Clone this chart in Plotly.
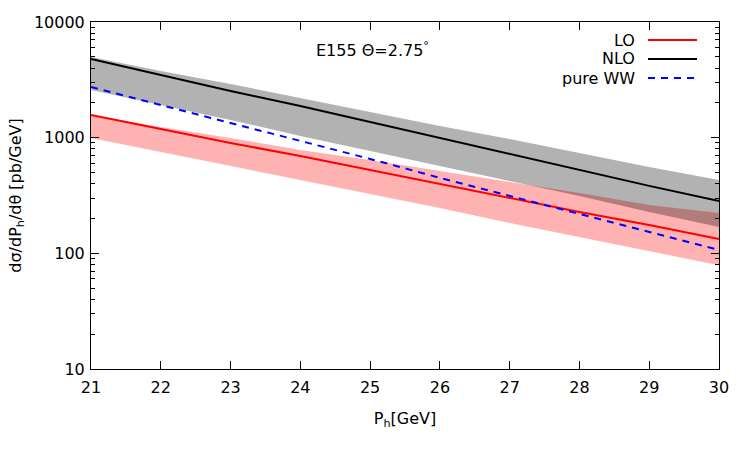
import plotly.graph_objects as go

# ---- data ----
p_h = [21, 22, 23, 24, 25, 26, 27, 28, 29, 30]

lo_central = [1571, 1189, 899, 695, 526, 398, 301, 228, 176, 133]
lo_band_upper = [1571, 1237, 994, 783, 642, 515, 414, 333, 262, 223]
lo_band_lower = [994, 752, 569, 431, 326, 247, 183, 139, 105, 79]

nlo_central = [4786, 3483, 2535, 1880, 1367, 994, 723, 526, 383, 284]
nlo_band_upper = [4977, 3767, 2911, 2203, 1667, 1262, 975, 738, 558, 431]
nlo_band_lower = [2585, 1918, 1422, 1035, 767, 569, 422, 313, 228, 169]

pure_ww = [2743, 1918, 1341, 936, 655, 449, 313, 219, 153, 107]

y_tickvals = [10, 100, 1000, 10000]
y_ticktext = ["10", "100", "1000", "10000"]
x_tickvals = [21, 22, 23, 24, 25, 26, 27, 28, 29, 30]

legend_names = ["LO", "NLO", "pure WW"]
legend_colors = ["#ff0000", "#000000", "#0000ff"]
legend_dash = ["solid", "solid", "dash"]

FONT = "DejaVu Sans"
FS = 16

fig = go.Figure()

# bands
fig.add_trace(go.Scatter(
    x=p_h + p_h[::-1], y=lo_band_upper + lo_band_lower[::-1],
    fill="toself", fillcolor="rgba(255,0,0,0.3)", line=dict(width=0),
    mode="lines", showlegend=False, hoverinfo="skip"))
fig.add_trace(go.Scatter(
    x=p_h + p_h[::-1], y=nlo_band_upper + nlo_band_lower[::-1],
    fill="toself", fillcolor="rgba(0,0,0,0.3)", line=dict(width=0),
    mode="lines", showlegend=False, hoverinfo="skip"))

# lines
fig.add_trace(go.Scatter(x=p_h, y=lo_central, mode="lines",
                         line=dict(color="#ff0000", width=2), name="LO", showlegend=False))
fig.add_trace(go.Scatter(x=p_h, y=nlo_central, mode="lines",
                         line=dict(color="#000000", width=2), name="NLO", showlegend=False))
fig.add_trace(go.Scatter(x=p_h, y=pure_ww, mode="lines",
                         line=dict(color="#0000ff", width=2, dash="7px,6px"),
                         name="pure WW", showlegend=False))

# gnuplot-style legend (text right, sample line to its right)
annotations = []
shapes = []
leg_y0 = 40
for i, (name, col, dsh) in enumerate(zip(legend_names, legend_colors, legend_dash)):
    ypix = leg_y0 + 19 * i
    annotations.append(dict(
        x=637, y=450 - ypix, xref="paper", yref="paper", text=name,
        showarrow=False, xanchor="right", yanchor="middle",
        font=dict(family=FONT, size=FS, color="#000000")))
    shapes.append(dict(
        type="line", x0=648, x1=697, y0=450 - ypix, y1=450 - ypix,
        xref="paper", yref="paper",
        line=dict(color=col, width=2, dash="7px,6px" if dsh == "dash" else "solid")))

annotations.append(dict(
    x=372, y=450 - 50, xref="paper", yref="paper",
    text="E155 Θ=2.75<sup>°</sup>", showarrow=False,
    xanchor="center", yanchor="middle",
    font=dict(family=FONT, size=FS, color="#000000")))

# convert pixel coords into paper fractions
W, H = 750, 450
ml, mr, mt, mb = 91, 31, 22, 81
pw, ph = W - ml - mr, H - mt - mb
for a in annotations:
    a["x"] = (a["x"] - ml) / pw
    a["y"] = (a["y"] - mb) / ph
for s in shapes:
    s["x0"] = (s["x0"] - ml) / pw
    s["x1"] = (s["x1"] - ml) / pw
    s["y0"] = (s["y0"] - mb) / ph
    s["y1"] = (s["y1"] - mb) / ph

fig.update_layout(
    width=W, height=H,
    margin=dict(l=ml, r=mr, t=mt, b=mb),
    paper_bgcolor="white", plot_bgcolor="white",
    font=dict(family=FONT, size=FS, color="#000000"),
    annotations=annotations, shapes=shapes,
    showlegend=False,
)

fig.update_xaxes(
    range=[21, 30], tickvals=x_tickvals,
    ticks="inside", ticklen=8, tickwidth=1, tickcolor="#000000",
    showline=True, linecolor="#000000", linewidth=1, mirror="allticks",
    showgrid=False, zeroline=False, ticklabelstandoff=4,
    tickfont=dict(family=FONT, size=FS),
    title=dict(text="P<sub>h</sub>[GeV]", font=dict(family=FONT, size=FS), standoff=16),
)
fig.update_yaxes(
    type="log", range=[1, 4], tickvals=y_tickvals, ticktext=y_ticktext,
    ticks="inside", ticklen=8, tickwidth=1, tickcolor="#000000",
    minor=dict(ticks="inside", ticklen=4, tickcolor="#000000", dtick="D1", showgrid=False),
    showline=True, linecolor="#000000", linewidth=1, mirror="allticks",
    showgrid=False, zeroline=False, ticklabelstandoff=2,
    tickfont=dict(family=FONT, size=FS),
    title=dict(text="dσ/dP<sub>h</sub>/dθ [pb/GeV]", font=dict(family=FONT, size=FS), standoff=8),
)

fig.write_html("out.html")
